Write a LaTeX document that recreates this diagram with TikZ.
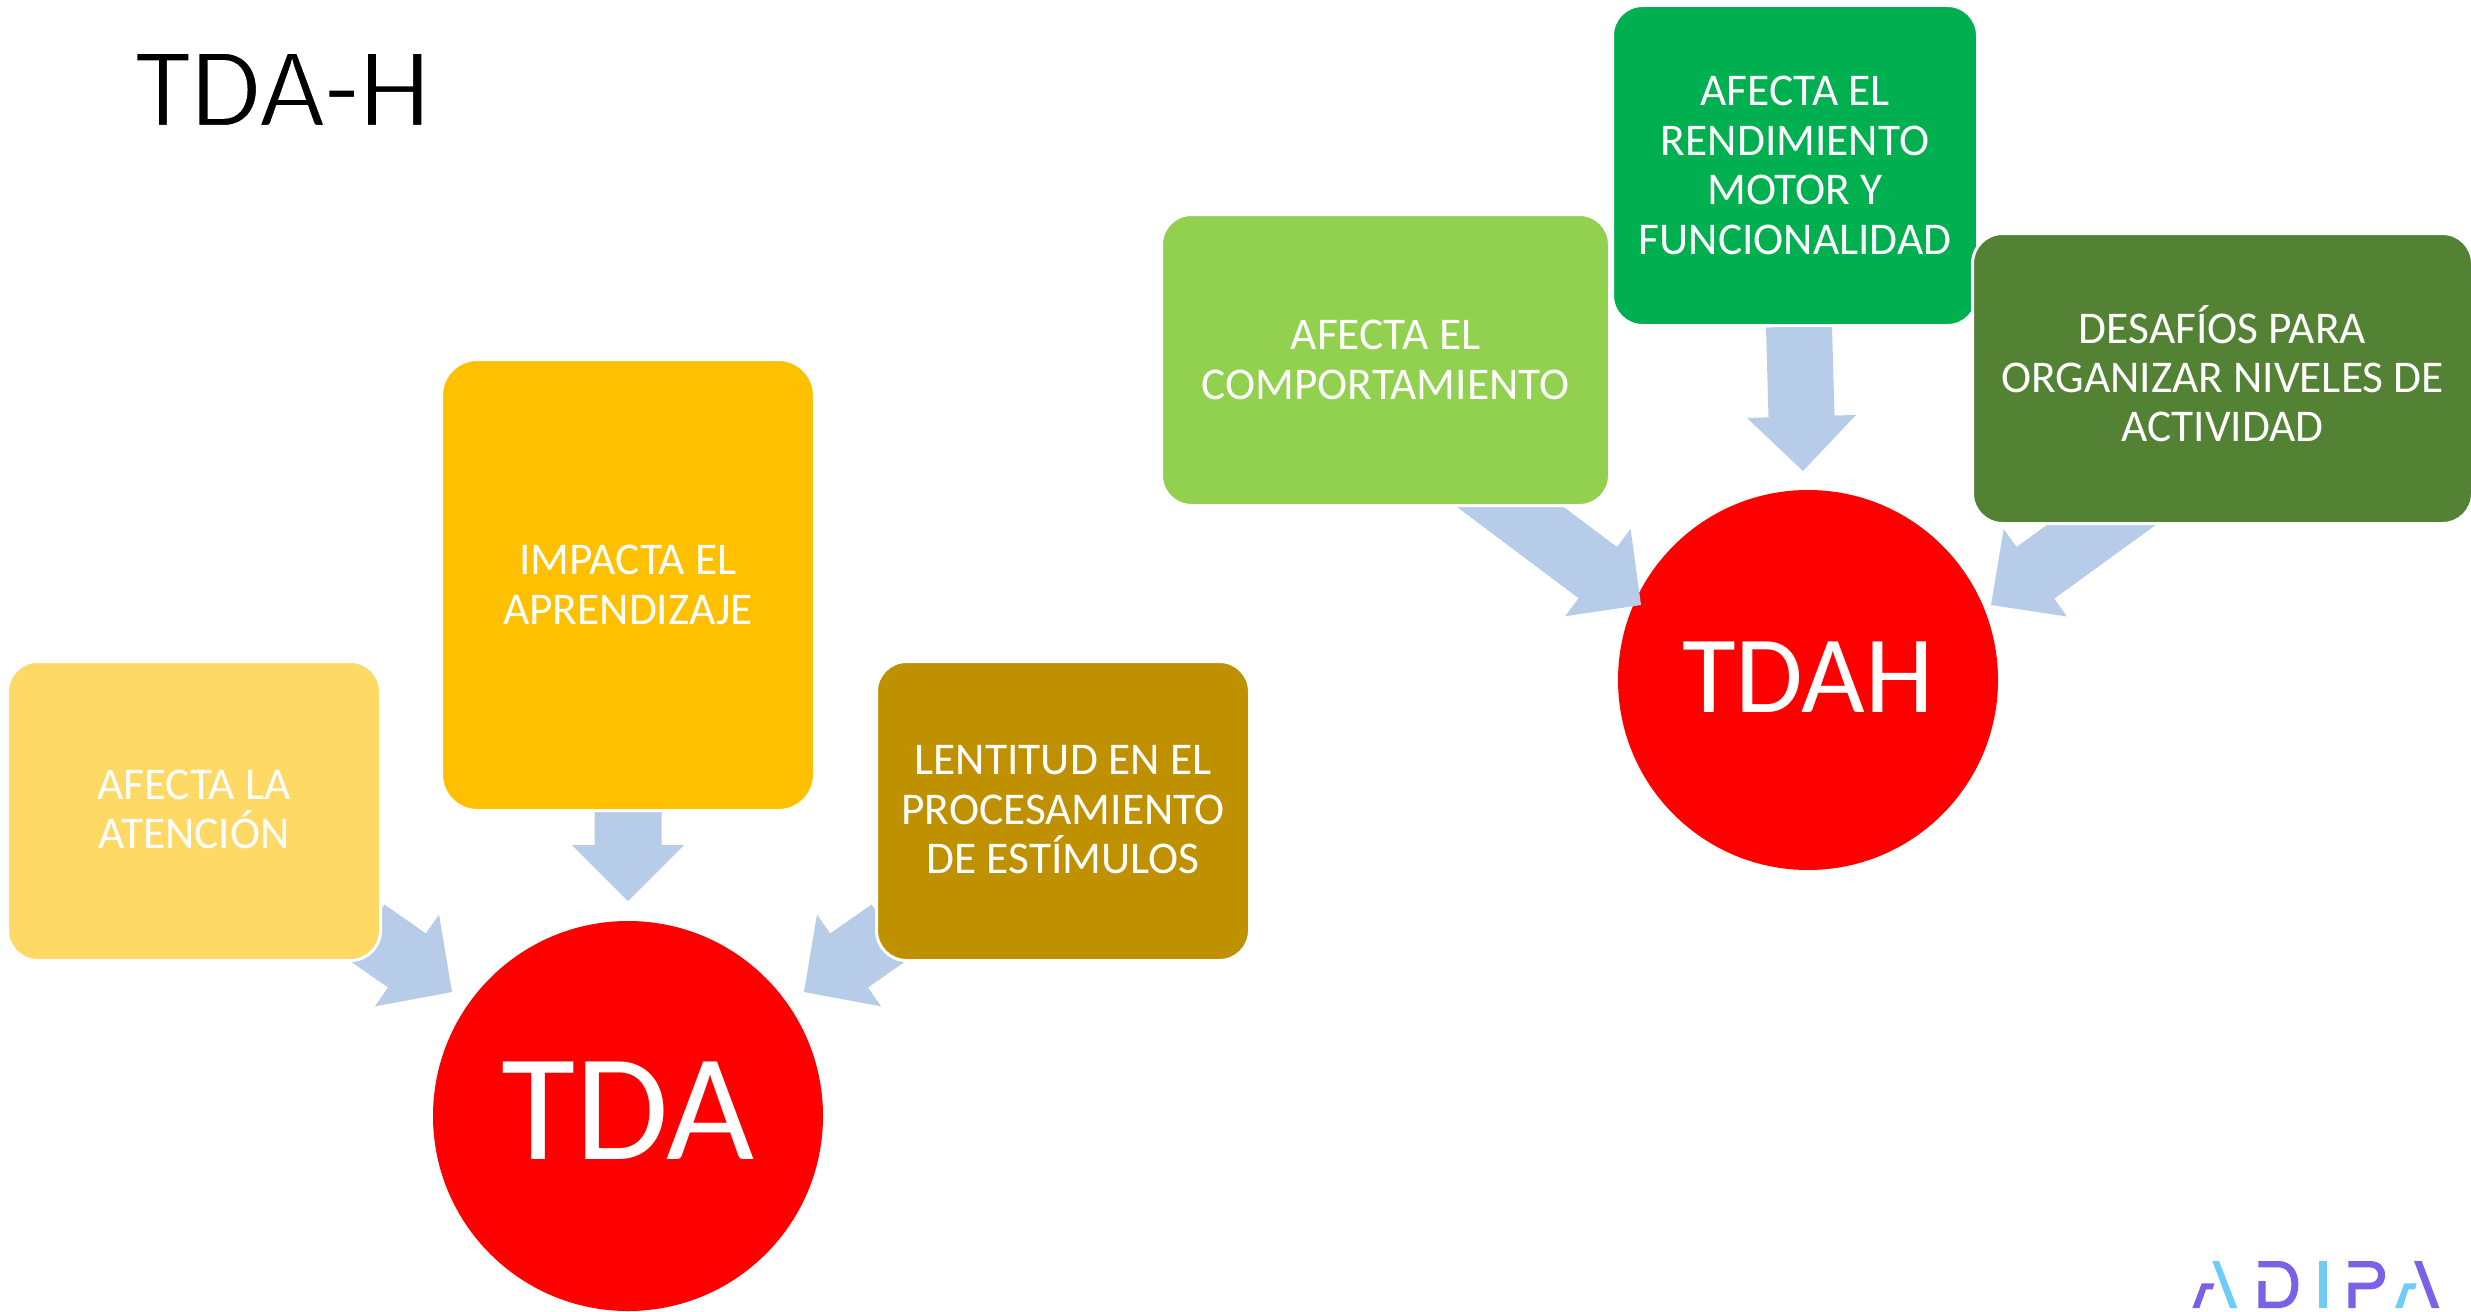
\documentclass[tikz,border=0pt]{standalone}
\usepackage{fontspec}
\setmainfont{Carlito}
\usetikzlibrary{positioning,calc}
\definecolor{amarillo}{HTML}{FFD966}
\definecolor{naranja}{HTML}{FFC000}
\definecolor{ocre}{HTML}{BF9000}
\definecolor{verdeclaro}{HTML}{92D050}
\definecolor{verde}{HTML}{00B050}
\definecolor{oliva}{HTML}{548235}
\definecolor{flecha}{HTML}{B7CCE8}
\definecolor{lila}{HTML}{7B61E8}
\definecolor{celeste}{HTML}{6FCBF7}
% titulo mas fino: contorno blanco sobre la letra
\newcommand{\fino}[1]{\special{pdf:code 2 Tr 1 1 1 RG 1 w}#1\special{pdf:code 0 Tr 0 w}}
\begin{document}
\begin{tikzpicture}[x=0.5pt,y=-0.5pt,
    caja/.style={draw=white,line width=1.5pt,rounded corners=15pt,inner sep=0pt,align=center,text=white,
        font=\fontsize{22.7}{24.7}\selectfont},
    circulo/.style={circle,fill=red,inner sep=0pt,text=white}]
    \useasboundingbox (0,0) rectangle (2471,1311);
    \node[anchor=base west,font=\fontsize{57}{60}\selectfont] (titulo) at (128,126) {\fino{TDA-H}};
    % circulos
    \node[circulo,minimum size=195pt,text depth=4.8pt,font=\fontsize{76}{80}\selectfont] (tda) at (628,1116) {TDA};
    \node[circulo,minimum size=190pt,text depth=2.4pt,font=\fontsize{55}{60}\selectfont] (tdah) at (1808,680) {TDAH};
    % extremos de las flechas
    \coordinate (a1) at (365.5,931.5); \coordinate (a2) at (452,992);
    \coordinate (b1) at (628,812);     \coordinate (b2) at (628,901);
    \coordinate (c1) at (890.5,931.5); \coordinate (c2) at (804,992);
    \coordinate (d1) at (1433,449);    \coordinate (d2) at (1641,605);
    \coordinate (e1) at (1799,326.5);  \coordinate (e2) at (1803,471);
    \coordinate (f1) at (2177,470);    \coordinate (f2) at (1991,605);
    % flechas: inicio/punta/medio cuerpo/media cabeza/largo cabeza
    \foreach \ini/\fin/\cuerpo/\cabeza/\largo in {a1/a2/16.5/28/27.5,b1/b2/16.75/28/28,c1/c2/16.5/28/27.5,
        d1/d2/16/27.3/27,e1/e2/16.5/27.3/27.3,f1/f2/16/27/27.4}{
        \coordinate (base) at ($(\fin)!\largo pt!(\ini)$);
        \fill[flecha] ($(\ini)!\cuerpo pt!90:(\fin)$) -- ($(base)!\cuerpo pt!90:(\fin)$)
            -- ($(base)!\cabeza pt!90:(\fin)$) -- (\fin) -- ($(base)!\cabeza pt!-90:(\fin)$)
            -- ($(base)!\cuerpo pt!-90:(\fin)$) -- ($(\ini)!\cuerpo pt!-90:(\fin)$) -- cycle;
    }
    % cajas
    \node[caja,fill=amarillo,text depth=1.5pt,minimum width=186.5pt,minimum height=149.5pt] (atencion) at (194,811) {AFECTA LA\\ATENCIÓN};
    \node[caja,fill=naranja,rounded corners=18pt,minimum width=186.5pt,minimum height=225.5pt] (aprendizaje) at (628,585) {IMPACTA EL\\APRENDIZAJE};
    \node[caja,fill=ocre,text depth=1.5pt,minimum width=186.5pt,minimum height=149.5pt] (lentitud) at (1063,811) {LENTITUD EN EL\\PROCESAMIENTO\\DE ESTÍMULOS};
    \node[caja,fill=verdeclaro,minimum width=224pt,minimum height=145.5pt] (comportamiento) at (1385.5,360) {AFECTA EL\\COMPORTAMIENTO};
    \node[caja,fill=verde,minimum width=182.5pt,minimum height=160pt] (motor) at (1795,165.5) {AFECTA EL\\RENDIMIENTO\\MOTOR Y\\FUNCIONALIDAD};
    \node[caja,fill=oliva,text depth=5pt,minimum width=250pt,minimum height=145pt] (desafios) at (2222.5,378.5) {DESAFÍOS PARA\\ORGANIZAR NIVELES DE\\ACTIVIDAD};
    % logo
    \begin{scope}[shift={(2150,1230)},x=0.16667pt,y=-0.16667pt]
        \fill[celeste] (187,93) -- (207,93) -- (262,234) -- (240,234) -- cycle;
        \fill[lila] (127,234) -- (155,160) -- (193,160) -- (188,178) -- (168,178) -- (148,234) -- cycle;
        \fill[lila] (325,93) -- (385,93) .. controls (425,93) and (445,125) .. (445,163) .. controls (445,205) and (425,234) .. (385,234)
            -- (325,234) -- (325,153) -- (347,153) -- (347,215) -- (385,215) .. controls (410,215) and (424,195) .. (424,163)
            .. controls (424,133) and (410,112) .. (385,112) -- (325,112) -- cycle;
        \fill[celeste] (507,93) rectangle (530,234);
        \fill[lila] (595,93) -- (660,93) .. controls (690,93) and (705,112) .. (705,135) .. controls (705,160) and (690,178) .. (660,178)
            -- (617,178) -- (617,234) -- (595,234) -- (595,158) -- (660,158) .. controls (675,158) and (684,148) .. (684,135)
            .. controls (684,122) and (675,112) .. (660,112) -- (595,112) -- cycle;
        \fill[lila] (792,93) -- (815,93) -- (868,234) -- (845,234) -- cycle;
        \fill[celeste] (735,234) -- (763,160) -- (800,160) -- (795,178) -- (775,178) -- (757,234) -- cycle;
    \end{scope}
\end{tikzpicture}
\end{document}
